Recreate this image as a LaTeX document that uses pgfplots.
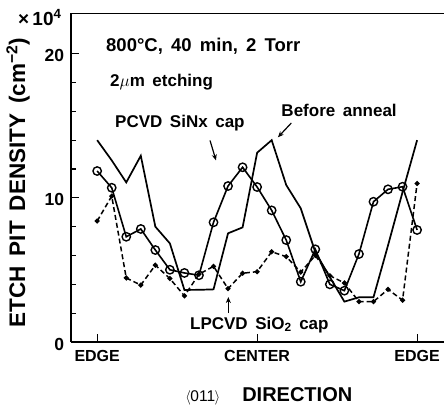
\documentclass[border=0pt]{standalone}
\usepackage{fontspec}
\setmainfont[WordSpace=1.6]{Liberation Sans}
\usepackage{pgfplots}
\usepackage{pgfplotstable}
\pgfplotsset{compat=1.18}
\usetikzlibrary{arrows.meta}

% etch pit density along <011>, position index 0 (edge) .. 11 (center) .. 22 (edge)
\pgfplotstableread{
x y
0 14.0
1 12.6
2 11.07
3 12.92
4 8.0
5 6.84
6 3.61
7 3.62
8 3.65
9 7.54
10 7.95
11 13.13
12 14.0
13 10.89
14 9.27
15 6.24
16 4.5
17 2.8
18 3.1
19 3.1
20 6.7
21 10.4
22 14.0
}\beforeanneal

\pgfplotstableread{
x y
0 8.39
1 10.12
2 4.44
3 3.95
4 5.33
5 4.4
6 3.2
7 4.7
8 5.25
9 3.7
10 4.77
11 4.88
12 6.26
13 5.92
14 4.85
15 6.0
16 4.6
17 4.1
18 2.8
19 2.8
20 3.65
21 2.9
22 11.0
}\siocap

\pgfplotstableread{
x y
0 11.86
1 10.70
2 7.30
3 7.84
4 6.38
5 5.01
6 4.79
7 4.63
8 8.30
9 10.82
10 12.12
11 10.75
12 9.13
13 7.07
14 4.18
15 6.43
16 4.00
17 3.56
18 6.10
19 9.73
20 10.59
21 10.77
22 7.77
}\sinxcap

\begin{document}
\begin{tikzpicture}
\begin{axis}[
  scale only axis,
  width=373pt, height=328.7pt,
  xmin=-1.8, xmax=23.85, ymin=0, ymax=22.8,
  axis x line=box, axis y line=left,
  axis line style={-, line width=1.5pt},
  tick align=inside,
  xtick={0,11,22}, xticklabels={EDGE,CENTER,EDGE}, xtick pos=bottom,
  ytick={0,10,20}, minor ytick={2,4,6,8,12,14,16,18}, ytick pos=left,
  major tick length=8pt, minor tick length=5.5pt,
  every tick/.style={black, line width=1.2pt},
  /pgf/number format/assume math mode=true,
  xticklabel style={font=\fontsize{16}{16}\selectfont\bfseries, yshift=-4.5pt},
  yticklabel style={font=\fontsize{17.5}{17.5}\selectfont\bfseries, xshift=-3.3pt, yshift=-2pt},
  clip=false,
]
\addplot[black, line width=1.7pt] table[x=x, y=y] {\beforeanneal};
\addplot[black, line width=1.5pt, dash pattern=on 5pt off 3pt,
  mark=*, mark size=1.7pt, mark options={solid}] table[x=x, y=y] {\siocap};
\addplot[black, line width=1.6pt, mark=o, mark size=4.2pt,
  mark options={solid, fill=white, line width=1.4pt}] table[x=x, y=y] {\sinxcap};

% annotations
\node[anchor=base west, inner sep=0, font=\fontsize{18.5}{18.5}\selectfont\bfseries]
  at (axis cs:0.607,20.13) {800\textdegree C, 40 min, 2 Torr};
\node[anchor=base west, inner sep=0, font=\fontsize{17}{17}\selectfont\bfseries]
  at (axis cs:0.882,17.75) {2$\mu$m etching};
\node[anchor=base west, inner sep=0, font=\fontsize{17}{17}\selectfont\bfseries]
  at (axis cs:1.226,14.86) {PCVD SiNx cap};
\node[anchor=base west, inner sep=0, font=\fontsize{17}{17}\selectfont\bfseries]
  at (axis cs:12.66,15.67) {Before anneal};
\node[anchor=base west, inner sep=0, font=\fontsize{17}{17}\selectfont\bfseries]
  at (axis cs:6.38,0.88) {LPCVD SiO\textsubscript{2} cap};

\draw[line width=1.2pt, -{Stealth[length=6pt,width=5pt]}] (axis cs:7.76,13.98) -- (axis cs:8.17,12.60);
\draw[line width=1.2pt, -{Stealth[length=6pt,width=5pt]}] (axis cs:13.35,15.19) -- (axis cs:12.43,14.2);
\draw[line width=1.2pt, -{Stealth[length=6pt,width=5pt]}] (axis cs:9.02,2.01) -- (axis cs:9.02,3.12);

% scale factor and axis titles
\node[anchor=base west, inner sep=0, font=\fontsize{19}{19}\selectfont\bfseries]
  at (axis cs:-5.445,21.98) {\texttimes\,10\textsuperscript{4}};
\node[anchor=base, inner sep=0, rotate=90, font=\fontsize{22.5}{24}\selectfont\bfseries]
  at (axis cs:-4.963,11.06) {ETCH PIT DENSITY (cm\textsuperscript{−2})};
\node[anchor=base west, inner sep=0] at (axis cs:6.05,-4.14)
  {{\fontsize{15.5}{15.5}\selectfont$\langle$\hspace{-0.5pt}011\hspace{-0.5pt}$\rangle$}\hspace{22pt}{\fontsize{20}{20}\selectfont\bfseries DIRECTION}};

\coordinate (o) at (rel axis cs:0,0);
\end{axis}
\pgfresetboundingbox
\path[use as bounding box] (o) ++(-71pt,-63pt) rectangle ++(444pt,405pt);
\end{tikzpicture}
\end{document}
